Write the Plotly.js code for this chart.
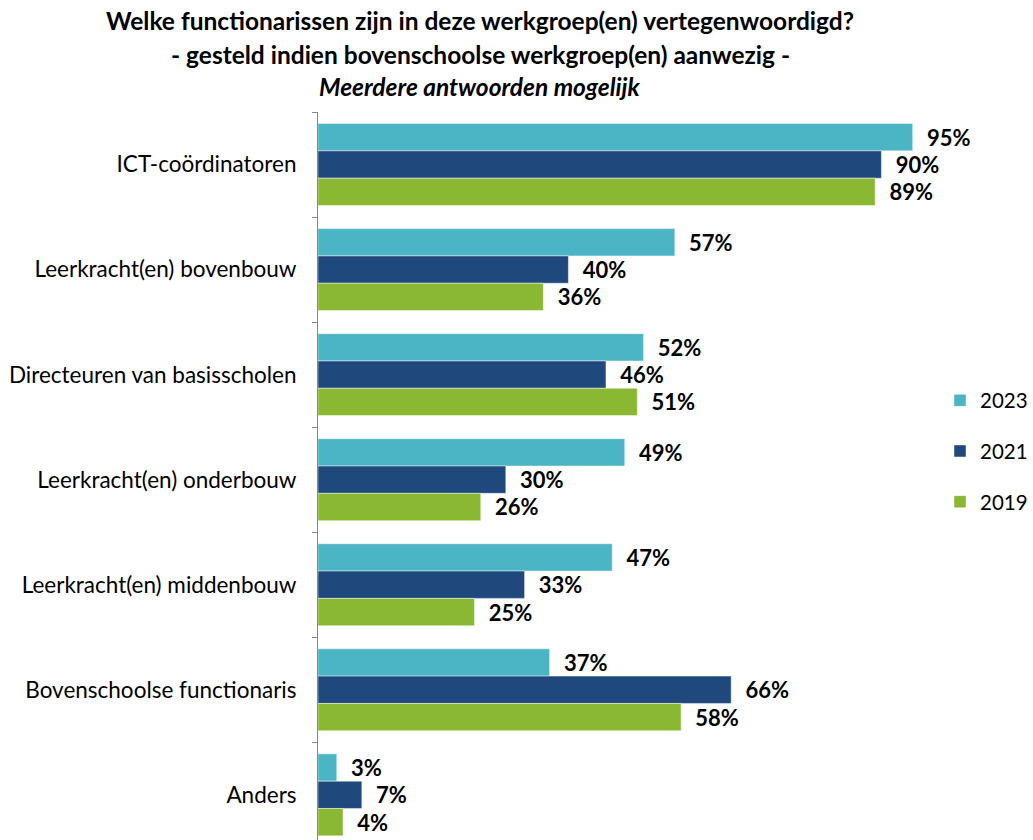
<!DOCTYPE html>
<html>
<head>
<meta charset="utf-8">
<script src="https://cdn.plot.ly/plotly-3.0.1.min.js"></script>
<style>html,body{margin:0;padding:0;background:#fff;overflow:hidden}</style>
</head>
<body>
<div id="chart" style="width:1033px;height:840px"></div>
<script>
const categories = ["ICT-coördinatoren","Leerkracht(en) bovenbouw","Directeuren van basisscholen","Leerkracht(en) onderbouw","Leerkracht(en) middenbouw","Bovenschoolse functionaris","Anders"];
const series = ["2023","2021","2019"];
const values2023 = [95,57,52,49,47,37,3];
const values2021 = [90,40,46,30,33,66,7];
const values2019 = [89,36,51,26,25,58,4];
const colors = ["#4BB5C5","#1F497D","#8AB833"];
const allValues = [values2023, values2021, values2019];

const FONT = "Lato, 'Open Sans', sans-serif";
const traces = series.map((name, i) => ({
  type: "bar",
  orientation: "h",
  name: name,
  legendgroup: name,
  y: categories,
  x: allValues[i],
  marker: {color: colors[i], line: {color: "rgba(255,255,255,0.45)", width: 1}},
  texttemplate: "\u00a0\u00a0<b>%{x}%</b>",
  textposition: "outside",
  cliponaxis: false,
  textfont: {family: FONT, size: 22, color: "#000"},
  hoverinfo: "x+y"
}));

const layout = {
  width: 1033, height: 840,
  margin: {l: 318, r: 89, t: 112, b: 0, autoexpand: false},
  paper_bgcolor: "#fff", plot_bgcolor: "#fff",
  barmode: "group",
  bargap: 0.22, bargroupgap: 0,
  title: {text: "<b>Welke functionarissen zijn in deze werkgroep(en) vertegenwoordigd?</b>",
    x: 480/1033, xanchor: "center", xref: "container", y: 1 - 21/840, yref: "container", yanchor: "middle",
    font: {family: FONT, size: 24.5, color: "#000"}},
  annotations: [
    {text: "<b>- gesteld indien bovenschoolse werkgroep(en) aanwezig -</b>", xref: "paper", yref: "paper",
     x: (480-318)/626, y: 1 + (112-54)/728, xanchor: "center", yanchor: "middle", showarrow: false,
     font: {family: FONT, size: 24.5, color: "#000"}},
    {text: "<b><i>Meerdere antwoorden mogelijk</i></b>", xref: "paper", yref: "paper",
     x: (480-318)/626, y: 1 + (112-87)/728, xanchor: "center", yanchor: "middle", showarrow: false,
     font: {family: FONT, size: 24.5, color: "#000"}}
  ],
  xaxis: {range: [0, 100], visible: false, fixedrange: true},
  yaxis: {type: "category", categoryorder: "array", categoryarray: categories,
    range: [6.43, -0.5], showline: true, linecolor: "#868686", linewidth: 1,
    ticks: "outside", tickson: "boundaries", ticklen: 5, tickcolor: "#868686",
    ticklabelstandoff: 16, showgrid: false, zeroline: false,
    tickfont: {family: FONT, size: 22.5, color: "#000"}},
  legend: {x: (940-318)/626, xanchor: "left", y: (840-451)/728, yanchor: "middle",
    traceorder: "grouped", tracegroupgap: 21, bgcolor: "rgba(0,0,0,0)",
    font: {family: FONT, size: 20.5, color: "#000"}, itemwidth: 30},
  showlegend: true
};

Plotly.newPlot("chart", traces, layout, {displayModeBar: false, staticPlot: true});
</script>
</body>
</html>
